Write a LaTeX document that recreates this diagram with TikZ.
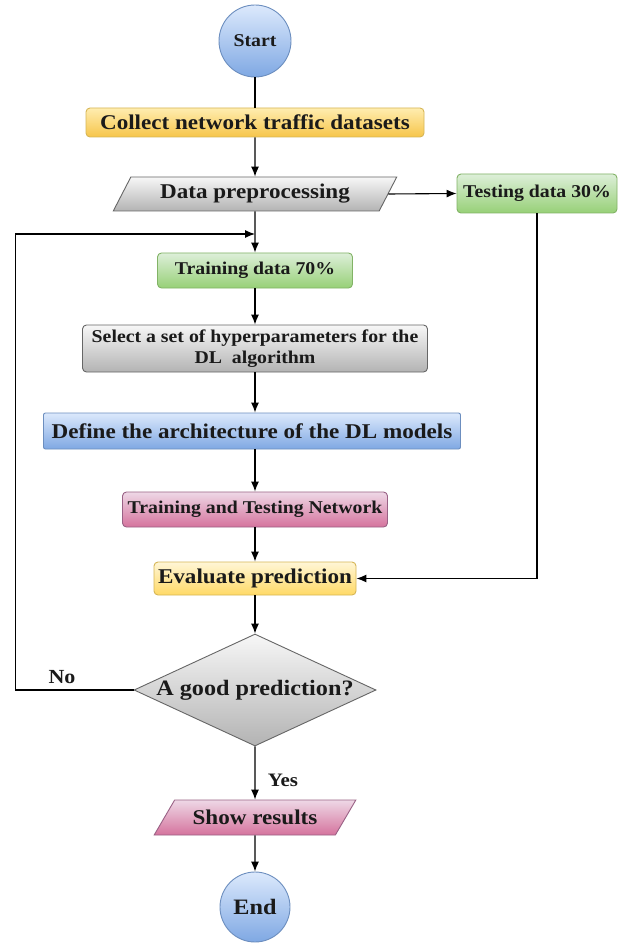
\documentclass[tikz,border=0pt]{standalone}
\usepackage{fontspec}
\setmainfont{Liberation Serif}[FakeStretch=1.1]
\usetikzlibrary{arrows.meta,shapes.geometric}
\definecolor{txt}{HTML}{1A1A1A}
\tikzset{
  base/.style={draw, line width=0.9pt, text=txt, font=\bfseries, inner sep=0pt, align=center},
  rbox/.style={base, rectangle, rounded corners=4pt},
  blue/.style={top color=blue1, bottom color=blue2, draw=blueb},
  yel/.style={top color=yel1, bottom color=yel2, draw=yelb},
  org/.style={top color=org1, bottom color=org2, draw=yelb},
  grn/.style={top color=grn1, bottom color=grn2, draw=grnb},
  gry/.style={top color=gry1, bottom color=gry2, draw=gryb},
  pnk/.style={top color=pnk1, bottom color=pnk2, draw=pnkb},
  para/.style={base, trapezium, trapezium stretches=true},
  flow/.style={line width=1.1pt, -{Latex[length=10pt,width=8pt]}},
  plain/.style={line width=1.1pt},
  lbl/.style={text=txt, font=\bfseries, inner sep=0pt}
}
\definecolor{blue1}{HTML}{DCE9FC}\definecolor{blue2}{HTML}{7FA8E3}\definecolor{blueb}{HTML}{6C8EBF}
\definecolor{yel1}{HTML}{FFF6D6}\definecolor{yel2}{HTML}{FFD966}\definecolor{yelb}{HTML}{D6B656}
\definecolor{org1}{HTML}{FFEDB0}\definecolor{org2}{HTML}{F6C54A}
\definecolor{grn1}{HTML}{DDEFD9}\definecolor{grn2}{HTML}{97D077}\definecolor{grnb}{HTML}{82B366}
\definecolor{gry1}{HTML}{F7F7F7}\definecolor{gry2}{HTML}{B3B3B3}\definecolor{gryb}{HTML}{666666}
\definecolor{pnk1}{HTML}{EED8E6}\definecolor{pnk2}{HTML}{D5739D}\definecolor{pnkb}{HTML}{996185}
\begin{document}
\begin{tikzpicture}[x=1pt,y=-1pt]
\useasboundingbox[fill=white] (0,0) rectangle (624,949);
\node[base, circle, blue, minimum size=72pt, font=\bfseries\fontsize{18}{20}\selectfont] (start) at (255,41) {Start};
\node[rbox, org, minimum width=338pt, minimum height=29pt, font=\bfseries\fontsize{21}{24}\selectfont] (collect) at (255,122.5) {Collect network traffic datasets};
\node[para, gry, trapezium left angle=55, trapezium right angle=125, minimum width=284pt, minimum height=34pt, font=\bfseries\fontsize{21}{24}\selectfont] (prep) at (255,194) {Data preprocessing};
\node[rbox, grn, minimum width=160pt, minimum height=39pt, font=\bfseries\fontsize{18}{20}\selectfont] (test) at (537,193.5) {Testing data 30\%};
\node[rbox, grn, minimum width=195pt, minimum height=35pt, font=\bfseries\fontsize{18}{20}\selectfont] (train) at (255,270.5) {Training data 70\%};
\node[rbox, gry, minimum width=345pt, minimum height=47pt, font=\bfseries\fontsize{18}{21}\selectfont] (select) at (255,348.5) {Select a set of hyperparameters for the\\DL\ \ algorithm};
\node[rbox, blue, rounded corners=2pt, minimum width=417pt, minimum height=36pt, font=\bfseries\fontsize{21}{24}\selectfont] (define) at (252,431) {Define the architecture of the DL models};
\node[rbox, pnk, minimum width=265pt, minimum height=35pt, font=\bfseries\fontsize{18}{20}\selectfont] (ttn) at (255,509.5) {Training and Testing Network};
\node[rbox, yel, minimum width=202pt, minimum height=33pt, font=\bfseries\fontsize{21}{24}\selectfont] (eval) at (255,578.5) {Evaluate prediction};
\node[base, diamond, gry, minimum width=242pt, minimum height=112pt, aspect=2.16, font=\bfseries\fontsize{22}{24}\selectfont] (dec) at (255,690) {A good prediction?};
\node[para, pnk, trapezium left angle=43, trapezium right angle=137, minimum width=202pt, minimum height=35pt, font=\bfseries\fontsize{21}{24}\selectfont] (show) at (255,817.5) {Show results};
\node[base, circle, blue, minimum size=70pt, font=\bfseries\fontsize{22}{24}\selectfont] (end) at (255,907) {End};
\coordinate (join) at (255,234);
\node[lbl, font=\bfseries\fontsize{20}{22}\selectfont] (no) at (62,677) {No};
\node[lbl, font=\bfseries\fontsize{19}{21}\selectfont] (yes) at (283,780) {Yes};
\draw[plain] (start) -- (collect);
\draw[flow] (collect) -- (prep);
\draw[flow] (prep.east) -- (test.west);
\draw[flow] (prep) -- (train);
\draw[flow] (train) -- (select);
\draw[flow] (select.south) -- (select.south |- define.north);
\draw[flow] (define.south -| ttn.north) -- (ttn);
\draw[flow] (ttn) -- (eval);
\draw[flow] (test.south) |- (eval.east);
\draw[flow] (eval) -- (dec);
\draw[flow] (dec.west) -- ++(-118,0) |- (join);
\draw[flow] (dec) -- (show);
\draw[flow] (show) -- (end);
\end{tikzpicture}
\end{document}
